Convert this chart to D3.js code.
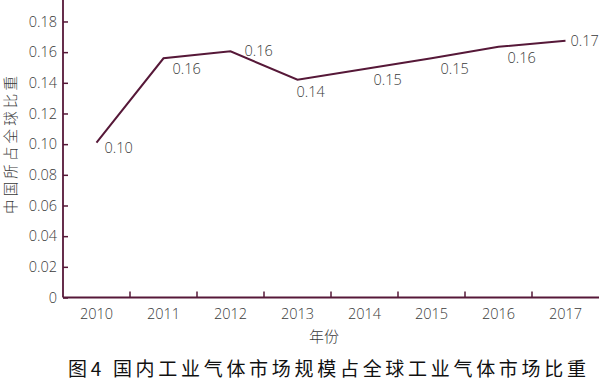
<!DOCTYPE html>
<html>
<head>
<meta charset="utf-8">
<script src="https://cdn.jsdelivr.net/npm/d3@7"></script>
<style>
  html, body { margin: 0; padding: 0; background: #fff; }
  svg { display: block; }
</style>
</head>
<body>
<svg id="chart" width="600" height="380"></svg>
<script>
// ---- data ----
const years = ["2010", "2011", "2012", "2013", "2014", "2015", "2016", "2017"];
const shares = [0.101, 0.156, 0.1605, 0.142, 0.149, 0.156, 0.1635, 0.1675];
const pointLabels = ["0.10", "0.16", "0.16", "0.14", "0.15", "0.15", "0.16", "0.17"];
const yTicks = [0, 0.02, 0.04, 0.06, 0.08, 0.10, 0.12, 0.14, 0.16, 0.18];
const yTickLabels = ["0", "0.02", "0.04", "0.06", "0.08", "0.10", "0.12", "0.14", "0.16", "0.18"];
const xTitle = "年份";
const yTitle = "中国所占全球比重";
const chartTitle = "图4 国内工业气体市场规模占全球工业气体市场比重";

(function () {
// ---- layout ----
const svg = d3.select("#chart");
const mLeft = 63, mRight = 599, mTop = 0, mBottom = 297.5;
const lineColor = "#561838";
const textColor = "#3a3a3a";
const latinFont = "'Open Sans', 'Noto Sans', sans-serif";
const cjkFont = "'Noto Sans CJK SC', sans-serif";

const x = d3.scaleBand().domain(years).range([mLeft, mRight]).padding(0);
const y = d3.scaleLinear().domain([0, 0.194]).range([mBottom, mTop]);

// Y axis (ticks pointing inward)
const yAxis = d3.axisRight(y)
  .tickValues(yTicks)
  .tickSize(5)
  .tickFormat(() => "");
const yg = svg.append("g").attr("transform", `translate(${mLeft},0)`).call(yAxis);
yg.select(".domain").remove();
yg.selectAll(".tick line").attr("stroke", lineColor).attr("stroke-width", 1.5);
yg.selectAll(".tick text").remove();
svg.append("line")
  .attr("x1", mLeft).attr("x2", mLeft)
  .attr("y1", y(0.194)).attr("y2", mBottom)
  .attr("stroke", lineColor).attr("stroke-width", 1.8);

svg.append("g").selectAll("text")
  .data(yTicks)
  .join("text")
  .attr("x", mLeft - 6)
  .attr("y", d => y(d))
  .attr("dy", "0.35em")
  .attr("text-anchor", "end")
  .attr("font-family", latinFont)
  .attr("font-weight", 300)
  .attr("font-size", 14.5)
  .attr("fill", textColor)
  .text((d, i) => yTickLabels[i]);

// X axis: line + upward ticks at band boundaries
svg.append("line")
  .attr("x1", mLeft).attr("x2", mRight)
  .attr("y1", mBottom).attr("y2", mBottom)
  .attr("stroke", lineColor).attr("stroke-width", 1.8);
svg.append("g").selectAll("line")
  .data(years.slice(1))
  .join("line")
  .attr("x1", d => x(d)).attr("x2", d => x(d))
  .attr("y1", mBottom).attr("y2", mBottom - 6)
  .attr("stroke", lineColor).attr("stroke-width", 1.5);
svg.append("g").selectAll("text")
  .data(years)
  .join("text")
  .attr("x", d => x(d) + x.bandwidth() / 2)
  .attr("y", mBottom + 16)
  .attr("dy", "0.35em")
  .attr("text-anchor", "middle")
  .attr("font-family", latinFont)
  .attr("font-weight", 300)
  .attr("font-size", 14.5)
  .attr("fill", textColor)
  .text(d => d);

// line
const cx = d => x(d) + x.bandwidth() / 2;
const line = d3.line()
  .x((d, i) => cx(years[i]))
  .y(d => y(d));
svg.append("path")
  .datum(shares)
  .attr("d", line)
  .attr("fill", "none")
  .attr("stroke", lineColor)
  .attr("stroke-width", 2)
  .attr("stroke-linejoin", "miter");

// point labels (placement rule by local shape)
function labelOffset(i) {
  const n = shares.length;
  const v = shares[i];
  if (i === n - 1) return [5, 0];
  if (i === 0) return [8, 5];
  const prev = shares[i - 1], next = shares[i + 1];
  if (v > prev && v > next) return [14, 0];
  if (v < prev && v < next) return [-1, 12];
  return [9, 11];
}
svg.append("g").selectAll("text")
  .data(shares)
  .join("text")
  .attr("x", (d, i) => cx(years[i]) + labelOffset(i)[0])
  .attr("y", (d, i) => y(d) + labelOffset(i)[1])
  .attr("dy", "0.35em")
  .attr("font-family", latinFont)
  .attr("font-weight", 300)
  .attr("font-size", 14.5)
  .attr("fill", textColor)
  .text((d, i) => pointLabels[i]);

// axis titles
svg.append("text")
  .attr("x", (mLeft + mRight) / 2 - 7)
  .attr("y", 337)
  .attr("dy", "0.35em")
  .attr("text-anchor", "middle")
  .attr("font-family", cjkFont)
  .attr("font-weight", 300)
  .attr("font-size", 15)
  .attr("fill", textColor)
  .text(xTitle);

svg.append("text")
  .attr("transform", `translate(11,145) rotate(-90)`)
  .attr("dy", "0.35em")
  .attr("text-anchor", "middle")
  .attr("font-family", cjkFont)
  .attr("font-weight", 300)
  .attr("font-size", 14.5)
  .attr("textLength", 138)
  .attr("lengthAdjust", "spacing")
  .attr("fill", textColor)
  .text(yTitle);

// chart title
svg.append("text")
  .attr("x", 68)
  .attr("y", 369)
  .attr("dy", "0.35em")
  .attr("font-family", cjkFont)
  .attr("font-weight", 400)
  .attr("font-size", 19)
  .attr("textLength", 518)
  .attr("lengthAdjust", "spacing")
  .attr("fill", "#111")
  .text(chartTitle);
})();
</script>
</body>
</html>
